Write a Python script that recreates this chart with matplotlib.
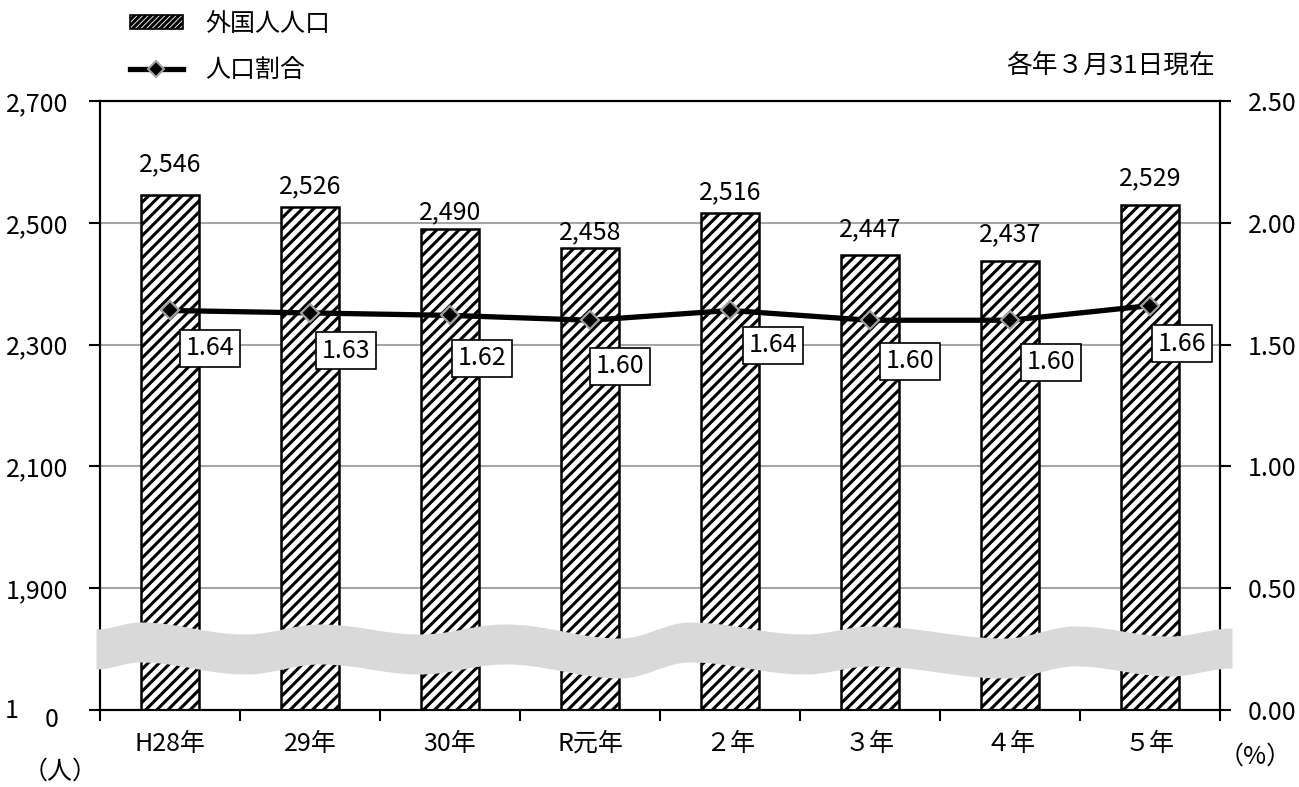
import numpy as np
import matplotlib
matplotlib.use('Agg')
import matplotlib.pyplot as plt
from matplotlib.patches import Patch
from matplotlib.lines import Line2D
from matplotlib.ticker import FuncFormatter

plt.rcParams['font.family'] = ['Noto Sans CJK JP', 'DejaVu Sans']
plt.rcParams['hatch.linewidth'] = 2.2

# ---- data ----
categories = ['H28年', '29年', '30年', 'R元年', '２年', '３年', '４年', '５年']
population = [2546, 2526, 2490, 2458, 2516, 2447, 2437, 2529]
ratio = [1.64, 1.63, 1.62, 1.60, 1.64, 1.60, 1.60, 1.66]
left_ticks = [1700, 1900, 2100, 2300, 2500, 2700]
right_ticks = [0.0, 0.5, 1.0, 1.5, 2.0, 2.5]

# ---- label placement (pixels) ----
bar_label_offsets = [31, 21, 17, 16, 21, 26, 27, 27]
ratio_label_offsets = [(40, -38), (36, -38), (32, -43), (30, -46),
                       (43, -35), (40, -41), (41, -42), (32, -38)]

W, H = 1299, 787
fig = plt.figure(figsize=(W / 100, H / 100), dpi=100)
L, R, T, B = 100, 1220, 101, 710
ax = fig.add_axes([L / W, 1 - B / H, (R - L) / W, (B - T) / H])

x = np.arange(len(categories))
ax.bar(x, population, width=0.41, color='white', edgecolor='black',
       linewidth=1.8, hatch='///', zorder=2)
ax.set_ylim(1700, 2700)
ax.set_xlim(-0.5, len(categories) - 0.5)
ax.set_yticks(left_ticks)
# the lowest label is hidden behind the "0" box in the original
ax.yaxis.set_major_formatter(FuncFormatter(
    lambda v, p: '' if v <= left_ticks[0] else f'{int(v):,}'))
ax.yaxis.grid(True, color='#a6a6a6', linewidth=1.5)
ax.set_axisbelow(True)
ax.tick_params(axis='y', direction='out', length=8, width=1.5, pad=15,
               labelsize=18)
ax.set_xticks(np.arange(-0.5, len(categories), 1))
ax.set_xticklabels([])
ax.set_xticks(x, minor=True)
ax.set_xticklabels(categories, minor=True)
ax.tick_params(axis='x', which='major', direction='out', length=8, width=1.5)
ax.tick_params(axis='x', which='minor', length=0, pad=15, labelsize=18)
for s in ax.spines.values():
    s.set_linewidth(1.5)
    s.set_color('black')

for xi, v, off in zip(x, population, bar_label_offsets):
    ax.annotate(f'{v:,}', (xi, v), xytext=(0, off), textcoords='offset pixels',
                ha='center', va='center', fontsize=18)

ax2 = ax.twinx()
ax2.set_ylim(0, 2.5)
ax2.plot(x, ratio, color='black', lw=3.8, marker='D', ms=9.5, mfc='black',
         mec='#a0a0a0', mew=1.6, zorder=4)
ax2.set_yticks(right_ticks)
ax2.yaxis.set_major_formatter(FuncFormatter(lambda v, p: f'{v:.2f}'))
ax2.tick_params(axis='y', direction='out', length=8, width=1.5, pad=12,
                labelsize=18)
for s in ax2.spines.values():
    s.set_linewidth(1.5)
    s.set_color('black')

for xi, r, (dx, dy) in zip(x, ratio, ratio_label_offsets):
    ax2.annotate(f'{r:.2f}', (xi, r), xytext=(dx, dy), textcoords='offset pixels',
                 ha='center', va='center', fontsize=18, zorder=7,
                 bbox=dict(boxstyle='square,pad=0.22', fc='white', ec='black', lw=1.2))

# ---- wavy break band (decoration) ----
wave_px = np.array([96, 140, 245, 320, 420, 505, 620, 690, 805, 870, 1005, 1075, 1170, 1232], float)
wave_top = np.array([629, 622, 634, 624, 634, 624, 638, 622, 634, 626, 638, 626, 636, 628], float)
xs = np.linspace(wave_px[0], wave_px[-1], 600)
idx = np.clip(np.searchsorted(wave_px, xs) - 1, 0, len(wave_px) - 2)
t = (xs - wave_px[idx]) / (wave_px[idx + 1] - wave_px[idx])
t = (1 - np.cos(np.pi * t)) / 2
ytop = wave_top[idx] * (1 - t) + wave_top[idx + 1] * t
ybot = ytop + 40
xf = (xs - L) / (R - L)
ax2.fill_between(xf, (B - ybot) / (B - T), (B - ytop) / (B - T),
                 transform=ax2.transAxes, color='#d9d9d9', lw=0,
                 zorder=5, clip_on=False)

# ---- partially hidden lowest label and the "0" box ----
fig.text(12 / W, 1 - 711 / H, '1', ha='center', va='center', fontsize=18)
fig.text(52 / W, 1 - 720 / H, '0', ha='center', va='center', fontsize=18)

# ---- legend ----
handles = [Patch(fc='white', ec='black', hatch='//////', lw=1.2),
           Line2D([], [], color='black', lw=3.8, marker='D', ms=8.5, mfc='black',
                  mec='#a0a0a0', mew=1.5)]
fig.legend(handles, ['外国人人口', '人口割合'], loc='upper left',
           bbox_to_anchor=(130 / W, 1 - 11 / H), frameon=False, fontsize=18,
           handlelength=2.1, handleheight=0.5, labelspacing=0.8,
           handletextpad=0.9, borderpad=0, borderaxespad=0)

fig.text(1215 / W, 1 - 66 / H, '各年３月31日現在', ha='right', va='center', fontsize=18.5)
fig.text(60 / W, 1 - 772 / H, '（人）', ha='center', va='center', fontsize=18)
fig.text(1255 / W, 1 - 757 / H, '（%）', ha='center', va='center', fontsize=18)

fig.savefig('out.png', dpi=100)
